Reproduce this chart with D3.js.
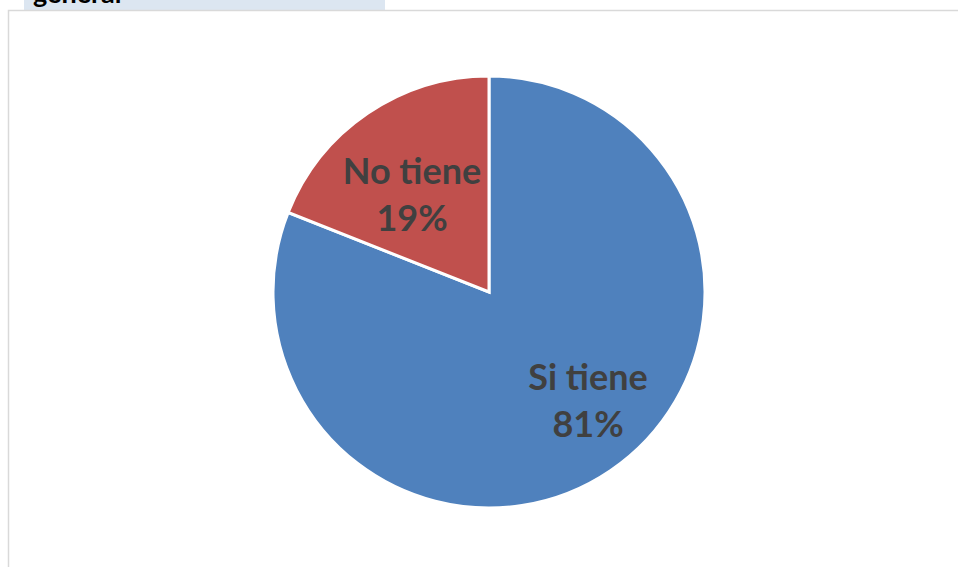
<!DOCTYPE html>
<html><head><meta charset="utf-8">
<script src="https://cdn.jsdelivr.net/npm/d3@7"></script>
<style>html,body{margin:0;padding:0;background:#fff;overflow:hidden}</style>
</head><body>
<svg id="c" width="958" height="567"></svg>
<script>
const categories = ["Si tiene", "No tiene"];
const values = [81, 19];
const colors = ["#4F81BD", "#C0504D"];
const headerText = "general";

const svg = d3.select("#c");
// header box (cut-off title)
svg.append("rect").attr("x", 24).attr("y", -5).attr("width", 361).attr("height", 15).attr("fill", "#DCE6F1");
svg.append("text").attr("x", 33).attr("y", 3).attr("font-family", "Lato, sans-serif")
  .attr("font-weight", "bold").attr("font-size", 27).attr("fill", "#000").text(headerText);
// chart border
svg.append("rect").attr("x", 8.5).attr("y", 10.5).attr("width", 1000).attr("height", 1000)
  .attr("fill", "#fff").attr("stroke", "#D9D9D9").attr("stroke-width", 1.5);

const cx = 489, cy = 292, r = 216;
const pie = d3.pie().sort(null).value(d => d)(values);
const arc = d3.arc().innerRadius(0).outerRadius(r);
const g = svg.append("g").attr("transform", `translate(${cx},${cy})`);
g.selectAll("path").data(pie).join("path")
  .attr("d", arc).attr("fill", (d, i) => colors[i])
  .attr("stroke", "#fff").attr("stroke-width", 3).attr("stroke-linejoin", "miter");

const labelPos = [[99, 98], [-77, -108]];
pie.forEach((d, i) => {
  const t = g.append("text").attr("text-anchor", "middle")
    .attr("font-family", "Lato, sans-serif").attr("font-weight", "bold")
    .attr("font-size", 36).attr("fill", "#404040")
    .attr("transform", `translate(${labelPos[i][0]},${labelPos[i][1]})`);
  t.append("tspan").attr("x", 0).attr("y", 0).text(categories[i]);
  t.append("tspan").attr("x", 0).attr("y", 47).text(values[i] + "%");
});
</script>
</body></html>
